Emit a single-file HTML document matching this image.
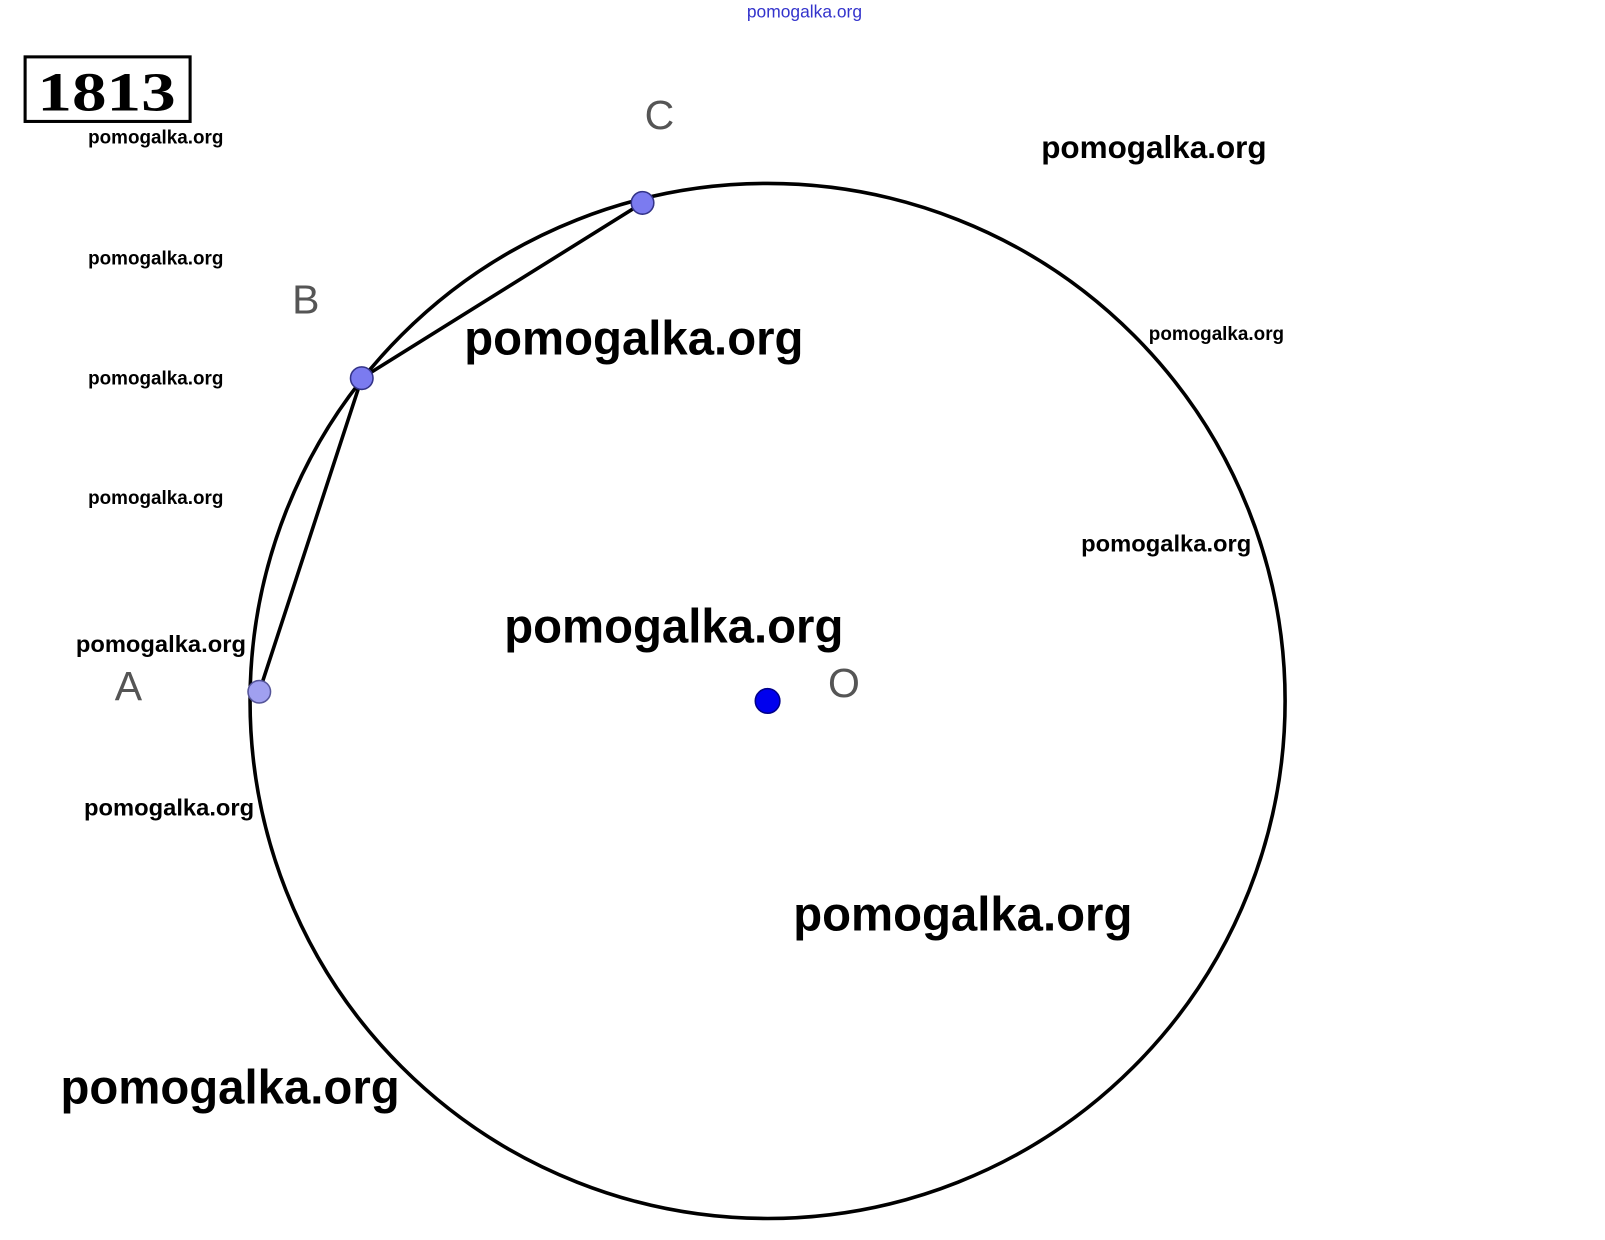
<!DOCTYPE html>
<html><head><meta charset="utf-8"><style>
html,body{margin:0;padding:0;background:#fff;width:1605px;height:1240px;overflow:hidden}
svg{position:absolute;left:0;top:0}
</style></head><body>
<svg width="1605" height="1240" xmlns="http://www.w3.org/2000/svg" font-family="Liberation Sans, sans-serif">
<rect width="1605" height="1240" fill="#fff"/>
<g transform="scale(1.0248)">
<text x="785" y="17" font-size="17" fill="#3333cc" text-anchor="middle">pomogalka.org</text>
<rect x="24.5" y="55.5" width="161" height="63" fill="none" stroke="#000" stroke-width="3"/>
<text x="104" y="108" font-family="Liberation Serif, serif" font-weight="bold" font-size="54" text-anchor="middle" textLength="135" lengthAdjust="spacingAndGlyphs">1813</text>
<circle cx="749" cy="684" r="505" fill="none" stroke="#000" stroke-width="3.5"/>
<polyline points="253,675 353,369 627,198" fill="none" stroke="#000" stroke-width="3.5"/>
<circle cx="627" cy="198" r="11" fill="#7b7bf0" stroke="#333388" stroke-width="1.5"/>
<circle cx="353" cy="369" r="11" fill="#7b7bf0" stroke="#333388" stroke-width="1.5"/>
<circle cx="253" cy="675" r="11" fill="#a0a0f0" stroke="#555599" stroke-width="1.5"/>
<circle cx="749" cy="684" r="12" fill="#0000ee" stroke="#000088" stroke-width="1.5"/>
<g font-size="40" fill="#555">
<text x="629" y="126">C</text>
<text x="285" y="306">B</text>
<text x="112" y="683">A</text>
<text x="808" y="680">O</text>
</g>
<g font-weight="bold" fill="#000">
<g font-size="19">
<text x="86" y="140" textLength="132" lengthAdjust="spacingAndGlyphs">pomogalka.org</text>
<text x="86" y="258" textLength="132" lengthAdjust="spacingAndGlyphs">pomogalka.org</text>
<text x="86" y="375" textLength="132" lengthAdjust="spacingAndGlyphs">pomogalka.org</text>
<text x="86" y="492" textLength="132" lengthAdjust="spacingAndGlyphs">pomogalka.org</text>
<text x="1121" y="332" textLength="132" lengthAdjust="spacingAndGlyphs">pomogalka.org</text>
</g>
<g font-size="23">
<text x="74" y="636" textLength="166" lengthAdjust="spacingAndGlyphs">pomogalka.org</text>
<text x="82" y="796" textLength="166" lengthAdjust="spacingAndGlyphs">pomogalka.org</text>
<text x="1055" y="538" textLength="166" lengthAdjust="spacingAndGlyphs">pomogalka.org</text>
</g>
<text x="1016" y="154" font-size="31" textLength="220" lengthAdjust="spacingAndGlyphs">pomogalka.org</text>
<g font-size="47">
<text x="453" y="346" textLength="331" lengthAdjust="spacingAndGlyphs">pomogalka.org</text>
<text x="492" y="627" textLength="331" lengthAdjust="spacingAndGlyphs">pomogalka.org</text>
<text x="774" y="908" textLength="331" lengthAdjust="spacingAndGlyphs">pomogalka.org</text>
<text x="59" y="1077" textLength="331" lengthAdjust="spacingAndGlyphs">pomogalka.org</text>
</g>
</g>
</g>
</svg>
</body></html>
